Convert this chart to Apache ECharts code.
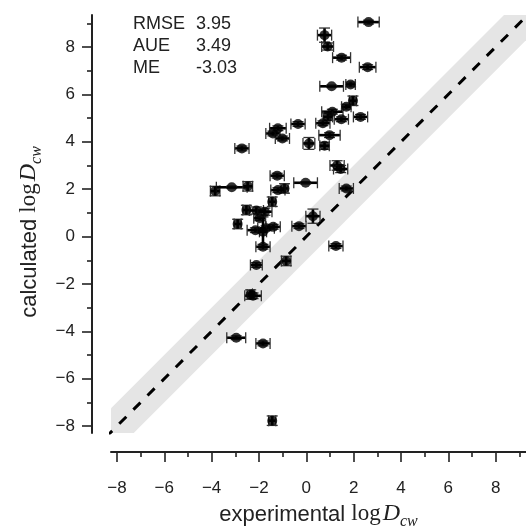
<!DOCTYPE html>
<html><head><meta charset="utf-8">
<script src="https://cdn.jsdelivr.net/npm/echarts@6/dist/echarts.min.js"></script>
<style>html,body{margin:0;padding:0;background:#fff}#c{width:526px;height:527px}</style>
</head><body><div id="c"></div>
<script>
// experimental logD (x), calculated logD (y), x error, y error
const expX  = [2.63, 0.77, 0.90, 1.49, 2.59, 1.07, 1.87, 1.97, 1.69, 1.10, 0.91, 1.48, 2.29, -0.35, 0.70, -1.41, -1.20, -1.01, -2.72, 0.11, 0.77, 0.98, 1.30, 1.45, -0.03, 1.69, -0.92, -1.20, -1.23, -3.85, -3.15, -2.47, -1.44, -2.53, -2.11, -1.75, -1.97, -2.90, -2.15, -1.70, -1.40, -1.83, -1.83, -0.31, 0.28, 1.25, -2.11, -0.85, -2.25, -2.35, -2.96, -1.83, -1.44];
const calcY = [9.05, 8.50, 8.02, 7.55, 7.15, 6.34, 6.42, 5.73, 5.48, 5.27, 5.05, 4.95, 5.05, 4.75, 4.78, 4.35, 4.57, 4.14, 3.72, 3.93, 3.83, 4.28, 3.00, 2.85, 2.27, 2.03, 2.03, 1.96, 2.57, 1.92, 2.08, 2.12, 1.47, 1.12, 1.10, 1.05, 0.77, 0.53, 0.27, 0.35, 0.41, 0.20, -0.43, 0.44, 0.86, -0.40, -1.20, -1.03, -2.50, -2.45, -4.27, -4.51, -7.77];
const xErr  = [0.45, 0.30, 0.25, 0.38, 0.35, 0.50, 0.20, 0.15, 0.20, 0.45, 0.20, 0.30, 0.30, 0.30, 0.30, 0.30, 0.35, 0.30, 0.30, 0.25, 0.20, 0.45, 0.30, 0.30, 0.50, 0.30, 0.15, 0.30, 0.30, 0.20, 0.65, 0.20, 0.15, 0.15, 0.30, 0.30, 0.25, 0.15, 0.35, 0.35, 0.30, 0.15, 0.30, 0.30, 0.30, 0.30, 0.25, 0.20, 0.35, 0.15, 0.40, 0.30, 0.15];
const yErr  = [0.08, 0.30, 0.15, 0.10, 0.10, 0.05, 0.10, 0.20, 0.10, 0.10, 0.15, 0.10, 0.10, 0.10, 0.10, 0.10, 0.10, 0.10, 0.10, 0.25, 0.15, 0.10, 0.20, 0.15, 0.05, 0.10, 0.20, 0.10, 0.10, 0.20, 0.05, 0.20, 0.20, 0.20, 0.15, 0.15, 0.10, 0.20, 0.10, 0.10, 0.10, 0.63, 0.10, 0.10, 0.30, 0.10, 0.10, 0.20, 0.12, 0.20, 0.08, 0.10, 0.20];

const majorTicks = [-8, -6, -4, -2, 0, 2, 4, 6, 8];
const minorTicks = [-7, -5, -3, -1, 1, 3, 5, 7, 9];
const xRange = [-8.25, 9.28];
const yRange = [-8.29, 9.35];
const bandHalfWidth = 1;
const statLabels = ['RMSE', 'AUE', 'ME'];
const statValues = ['3.95', '3.49', '-3.03'];

const fmt = v => String(v).replace('-', '\u2212');
const TXT = '#222';
const sans = 'Liberation Sans';
const serif = 'Liberation Serif';

const pts = expX.map((x, i) => [x, calcY[i], xErr[i], yErr[i]]);
const diagLo = Math.min(xRange[0], yRange[0]) - 2;
const diagHi = Math.max(xRange[1], yRange[1]) + 2;

function nameRich(sz) {
  return {
    a: {fontFamily: sans, fontSize: sz, color: TXT, lineHeight: 30, verticalAlign: 'bottom', padding: [0, 0, 4, 0]},
    b: {fontFamily: serif, fontSize: sz + 1, color: TXT, lineHeight: 30, verticalAlign: 'bottom', padding: [0, 0, 4, 0]},
    c: {fontFamily: serif, fontStyle: 'italic', fontSize: sz + 2, color: TXT, lineHeight: 30, verticalAlign: 'bottom', padding: [0, 0, 4, 2]},
    d: {fontFamily: serif, fontStyle: 'italic', fontSize: Math.round(sz * 0.72), color: TXT, lineHeight: 30, verticalAlign: 'bottom', padding: [0, 0, 0, 0]}
  };
}

function mkAxis(range, isX, minor) {
  return {
    type: 'value', min: range[0], max: range[1],
    offset: 19,
    position: isX ? 'bottom' : 'left',
    splitLine: {show: false},
    axisLine: {show: !minor, onZero: false, lineStyle: {color: TXT, width: 2}},
    axisTick: {show: true, length: minor ? 5 : 10, lineStyle: {color: TXT, width: 1.6},
      customValues: minor ? minorTicks : majorTicks},
    axisLabel: {show: !minor, customValues: majorTicks, formatter: fmt,
      fontFamily: sans, fontSize: 17, color: TXT, margin: isX ? 28 : 17},
    name: minor ? '' : (isX ? '{a|experimental }{b|log}{c|D}{d|cw}' : '{a|calculated }{b|log}{c|D}{d|cw}'),
    nameLocation: 'middle',
    nameGap: isX ? 47 : 44,
    nameRotate: isX ? 0 : 90,
    nameTextStyle: {rich: nameRich(22), padding: isX ? 0 : [0, 16, 0, 0]}
  };
}

const chart = echarts.init(document.getElementById('c'), null, {renderer: 'canvas'});
chart.setOption({
  animation: false,
  backgroundColor: '#fff',
  grid: {left: 111, right: 0, top: 15, bottom: 94, containLabel: false, outerBoundsMode: 'none'},
  xAxis: [mkAxis(xRange, true, false), mkAxis(xRange, true, true)],
  yAxis: [mkAxis(yRange, false, false), mkAxis(yRange, false, true)],
  graphic: statLabels.flatMap((lab, i) => [
    {type: 'text', left: 133, top: 15 + i * 22, style: {text: lab, font: '18px "Liberation Sans"', fill: TXT}},
    {type: 'text', left: 196, top: 15 + i * 22, style: {text: statValues[i], font: '18px "Liberation Sans"', fill: TXT}}
  ]),
  series: [
    {
      type: 'custom', clip: true, silent: true, z: 1,
      data: [[diagLo, diagHi]],
      renderItem: (params, api) => {
        const a = api.value(0), b = api.value(1);
        const p = [api.coord([a, a + bandHalfWidth]), api.coord([b, b + bandHalfWidth]),
                   api.coord([b, b - bandHalfWidth]), api.coord([a, a - bandHalfWidth])];
        return {type: 'polygon', shape: {points: p}, style: {fill: '#e5e5e5'}};
      }
    },
    {
      type: 'line', z: 2, silent: true, symbol: 'none', clip: true,
      data: [[diagLo, diagLo], [diagHi, diagHi]],
      lineStyle: {color: '#000', width: 3, type: [10, 10]}
    },
    {
      type: 'custom', z: 3, silent: true, clip: true,
      data: pts,
      renderItem: (params, api) => {
        const x = api.value(0), y = api.value(1), ex = api.value(2), ey = api.value(3);
        const l = api.coord([x - ex, y]), r = api.coord([x + ex, y]);
        const t = api.coord([x, y + ey]), b = api.coord([x, y - ey]);
        const cap = 5.5;
        const bar = {stroke: '#000', lineWidth: 2.6};
        const cs = {stroke: '#333', lineWidth: 1.3};
        return {type: 'group', children: [
          {type: 'line', shape: {x1: l[0], y1: l[1], x2: r[0], y2: r[1]}, style: bar},
          {type: 'line', shape: {x1: l[0], y1: l[1] - cap, x2: l[0], y2: l[1] + cap}, style: cs},
          {type: 'line', shape: {x1: r[0], y1: r[1] - cap, x2: r[0], y2: r[1] + cap}, style: cs},
          {type: 'line', shape: {x1: t[0], y1: t[1], x2: b[0], y2: b[1]}, style: bar},
          {type: 'line', shape: {x1: t[0] - cap, y1: t[1], x2: t[0] + cap, y2: t[1]}, style: cs},
          {type: 'line', shape: {x1: b[0] - cap, y1: b[1], x2: b[0] + cap, y2: b[1]}, style: cs}
        ]};
      }
    },
    {
      type: 'scatter', z: 4, silent: true,
      data: pts.map(p => [p[0], p[1]]),
      symbol: 'circle', symbolSize: 10,
      itemStyle: {color: '#000'}
    }
  ]
});
</script></body></html>
